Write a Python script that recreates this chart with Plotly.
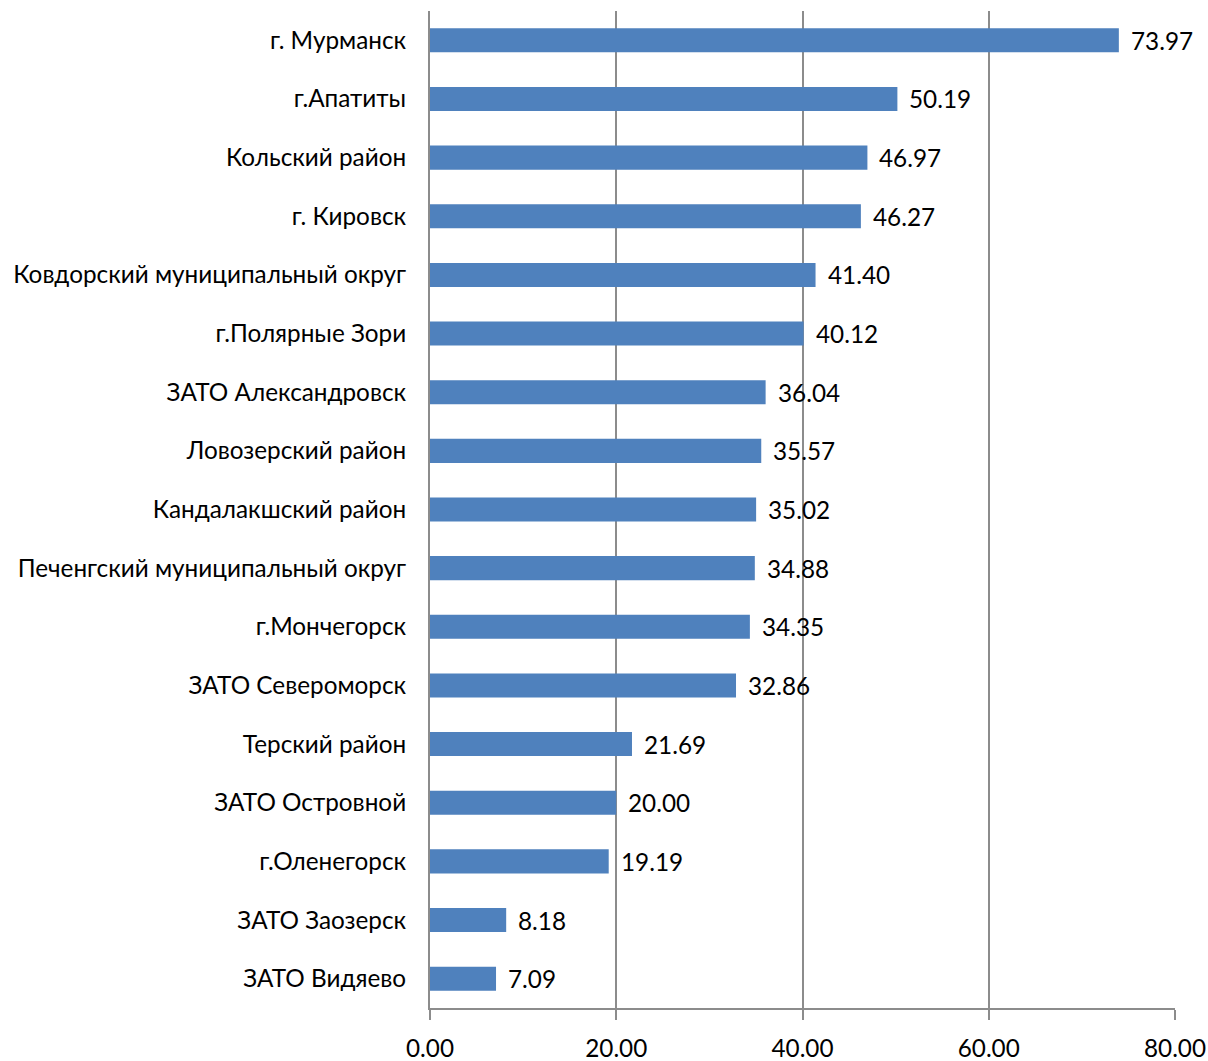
import plotly.graph_objects as go

categories = [
    "г. Мурманск",
    "г.Апатиты",
    "Кольский район",
    "г. Кировск",
    "Ковдорский муниципальный округ",
    "г.Полярные Зори",
    "ЗАТО Александровск",
    "Ловозерский район",
    "Кандалакшский район",
    "Печенгский муниципальный округ",
    "г.Мончегорск",
    "ЗАТО Североморск",
    "Терский район",
    "ЗАТО Островной",
    "г.Оленегорск",
    "ЗАТО Заозерск",
    "ЗАТО Видяево",
]
values = [73.97, 50.19, 46.97, 46.27, 41.40, 40.12, 36.04, 35.57, 35.02,
          34.88, 34.35, 32.86, 21.69, 20.00, 19.19, 8.18, 7.09]
tick_vals = [0, 20, 40, 60, 80]
tick_text = ["0.00", "20.00", "40.00", "60.00", "80.00"]

FS = 24.3

fig = go.Figure(go.Bar(
    x=values,
    y=categories,
    orientation="h",
    marker=dict(color="#4F81BD", line=dict(width=0)),
    width=0.41,
    hoverinfo="x+y",
))

for v, c in zip(values, categories):
    fig.add_annotation(
        x=v, y=c, xref="x", yref="y",
        text=f"{v:.2f}", showarrow=False,
        xanchor="left", yanchor="middle", xshift=10,
        font=dict(family="Lato", size=FS, color="#000000"),
    )

fig.update_layout(
    width=1208, height=1061,
    margin=dict(l=430, r=33, t=11, b=53),
    paper_bgcolor="white", plot_bgcolor="white",
    font=dict(family="Lato", size=FS, color="#000000"),
    showlegend=False,
    bargap=0.59,
)
fig.update_xaxes(
    range=[0, 80],
    tickvals=tick_vals, ticktext=tick_text,
    showgrid=True, gridcolor="#8c8c8c", gridwidth=2,
    showline=True, linecolor="#8c8c8c", linewidth=2,
    ticks="outside", ticklen=10, tickcolor="#8c8c8c", tickwidth=2,
    zeroline=False, automargin=False,
    ticklabelstandoff=8,
    tickfont=dict(family="Lato", size=FS, color="#000000"),
)
fig.update_yaxes(
    autorange="reversed",
    showgrid=False, automargin=False,
    showline=True, linecolor="#8c8c8c", linewidth=2,
    ticks="", ticklabelstandoff=17,
    tickfont=dict(family="Lato", size=FS, color="#000000"),
)

fig.write_html(
    "out.html",
    config={"displayModeBar": False},
    post_script="document.body.style.margin='0';document.body.style.overflow='hidden';",
)
